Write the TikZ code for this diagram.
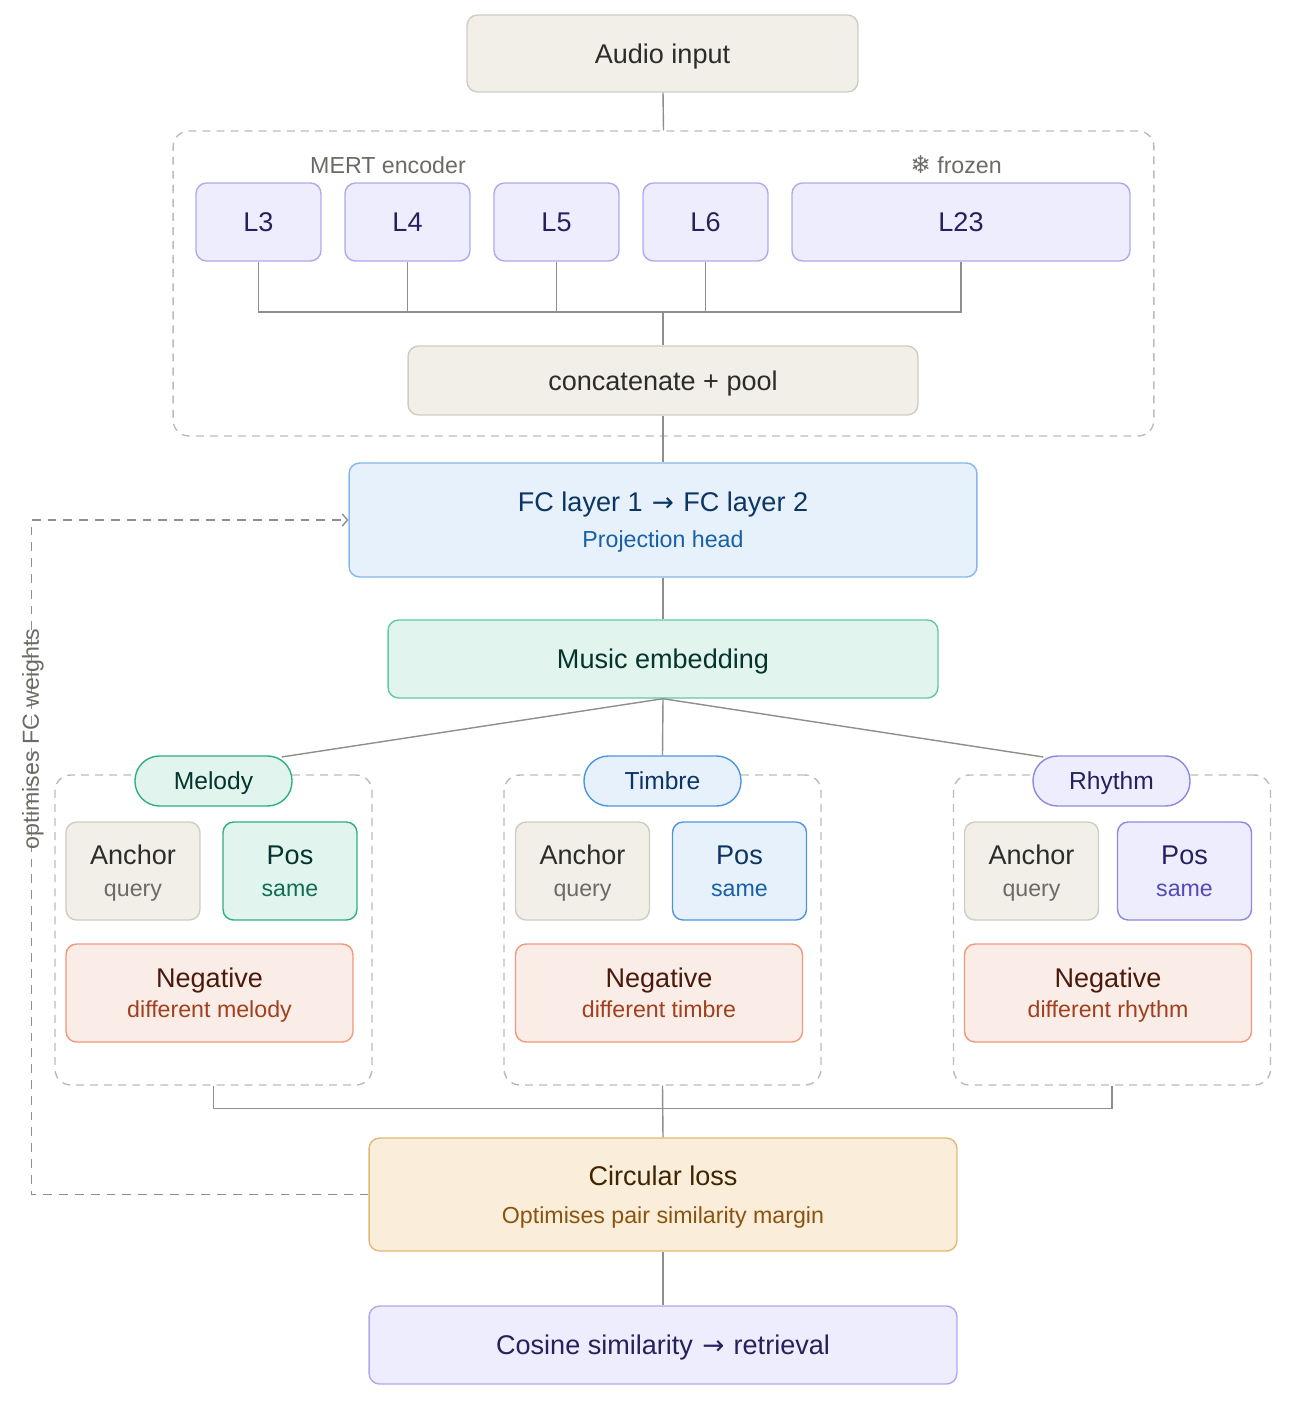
\documentclass[tikz,border=0pt]{standalone}
\usepackage{fontspec}
\setmainfont{Liberation Sans}
\newfontfamily\symfont{DejaVu Sans}
\usetikzlibrary{positioning,arrows.meta,calc}
\definecolor{SandFill}{HTML}{F1EFE8}
\definecolor{SandLine}{HTML}{CFCCC2}
\definecolor{SandText}{HTML}{2C2C2A}
\definecolor{SandSub}{HTML}{6B6A65}
\definecolor{VioFill}{HTML}{EEEDFE}
\definecolor{VioLine}{HTML}{AFA9EC}
\definecolor{VioDeep}{HTML}{8F88E0}
\definecolor{VioText}{HTML}{26215C}
\definecolor{VioSub}{HTML}{534AB7}
\definecolor{SkyFill}{HTML}{E6F1FB}
\definecolor{SkyLine}{HTML}{85B7EB}
\definecolor{SkyDeep}{HTML}{4F95DE}
\definecolor{SkyText}{HTML}{0C3563}
\definecolor{SkySub}{HTML}{185FA5}
\definecolor{MintFill}{HTML}{E1F5EE}
\definecolor{MintLine}{HTML}{5DCAA5}
\definecolor{MintDeep}{HTML}{2FAE84}
\definecolor{MintText}{HTML}{04342C}
\definecolor{MintSub}{HTML}{0F6E56}
\definecolor{RustFill}{HTML}{FAECE7}
\definecolor{RustLine}{HTML}{F0997B}
\definecolor{RustText}{HTML}{4A1B0C}
\definecolor{RustSub}{HTML}{A0401E}
\definecolor{AmberFill}{HTML}{FAEEDA}
\definecolor{AmberLine}{HTML}{E2B877}
\definecolor{AmberText}{HTML}{412402}
\definecolor{AmberSub}{HTML}{8A5410}
\definecolor{WireGrey}{HTML}{8E8E8A}
\definecolor{DashGrey}{HTML}{BDBBB4}
\newcommand\titlesize{\fontsize{15.4}{18}\selectfont}
\newcommand\subsize{\fontsize{13.2}{16}\selectfont}
\newcommand\arr{\hspace{1pt}{\symfont\fontsize{15}{16}\selectfont →}\hspace{1pt}}
% title over a coloured sub line; #4 = baseline distance
\newcommand\duo[4]{\vbox{\offinterlineskip\halign{\hfil##\hfil\cr
  \rule{0pt}{11pt}\smash{#1}\cr
  \noalign{\vskip #4}
  \smash{\subsize\color{#3}#2}\cr}}}

\tikzset{
  box/.style={draw, rounded corners=6pt, inner sep=0pt, line width=0.8pt, font=\titlesize},
  solo/.style={text height=11pt, text depth=0pt},
  sandbox/.style={box, solo, fill=SandFill, draw=SandLine, text=SandText},
  layerbox/.style={box, solo, fill=VioFill, draw=VioLine, text=VioText, minimum width=2.50cm, minimum height=1.56cm},
  group/.style={draw=DashGrey, dash pattern=on 4.5pt off 3.5pt, rounded corners=9pt, line width=0.8pt, inner sep=0pt},
  pill/.style={box, rounded corners=0.49cm, minimum width=3.14cm, minimum height=1.0cm, font=\fontsize{14}{17}\selectfont, text height=10pt, text depth=0pt},
  anchorbox/.style={box, fill=SandFill, draw=SandLine, text=SandText, minimum width=2.68cm, minimum height=1.96cm},
  posbox/.style={box, minimum width=2.68cm, minimum height=1.96cm},
  negbox/.style={box, fill=RustFill, draw=RustLine, text=RustText, minimum width=5.74cm, minimum height=1.96cm},
  wire/.style={draw=WireGrey, line width=0.8pt},
  tag/.style={font=\subsize, text=SandSub, inner sep=0pt}
}

\begin{document}
\begin{tikzpicture}[x=0.02cm, y=-0.02cm]
  \useasboundingbox (0,0) rectangle (1292,1403);

  % encoder
  \node[sandbox, minimum width=7.82cm, minimum height=1.54cm] (audio) at (662.5,53.5) {Audio input};
  \node[group, minimum width=19.62cm, minimum height=6.10cm] (enc) at (663.5,283.5) {};
  \node[tag] (mertlbl) at (388,165) {MERT encoder};
  \node[tag] (frozenlbl) at (956,165) {{\symfont\fontsize{14}{14}\selectfont ❄} frozen};
  \node[layerbox] (l3) at (258.5,222) {L3};
  \node[layerbox] (l4) at (407.5,222) {L4};
  \node[layerbox] (l5) at (556.5,222) {L5};
  \node[layerbox] (l6) at (705.5,222) {L6};
  \node[layerbox, minimum width=6.76cm] (l23) at (961,222) {L23};
  \node[sandbox, minimum width=10.2cm, minimum height=1.38cm] (concat) at (663,380.5) {concatenate + pool};
  \coordinate (hub) at (663,312);

  % head + embedding
  \node[box, fill=SkyFill, draw=SkyLine, text=SkyText, minimum width=12.56cm, minimum height=2.28cm] (fc) at (663,520)
    {\duo{FC layer 1 \arr{} FC layer 2}{Projection head}{SkySub}{20.2pt}};
  \node[box, solo, fill=MintFill, draw=MintLine, text=MintText, minimum width=11.0cm, minimum height=1.56cm] (emb) at (663,659) {Music embedding};

  % triplet groups
  \node[group, minimum width=6.34cm, minimum height=6.2cm] (mgrp) at (213.5,930) {};
  \node[group, minimum width=6.34cm, minimum height=6.2cm] (tgrp) at (662.5,930) {};
  \node[group, minimum width=6.34cm, minimum height=6.2cm] (rgrp) at (1112,930) {};
  \node[pill, fill=MintFill, draw=MintDeep, text=MintText] (melody) at (213.5,781) {Melody};
  \node[pill, fill=SkyFill, draw=SkyDeep, text=SkyText] (timbre) at (662.5,781) {Timbre};
  \node[pill, fill=VioFill, draw=VioDeep, text=VioText] (rhythm) at (1111.5,781) {Rhythm};

  \node[anchorbox] (manchor) at (133,871) {\duo{Anchor}{query}{SandSub}{18.3pt}};
  \node[posbox, fill=MintFill, draw=MintDeep, text=MintText] (mpos) at (290,871) {\duo{Pos}{same}{MintSub}{18.3pt}};
  \node[negbox] (mneg) at (209.5,993) {\duo{Negative}{different melody}{RustSub}{16.8pt}};

  \node[anchorbox] (tanchor) at (582.5,871) {\duo{Anchor}{query}{SandSub}{18.3pt}};
  \node[posbox, fill=SkyFill, draw=SkyDeep, text=SkyText] (tpos) at (739.5,871) {\duo{Pos}{same}{SkySub}{18.3pt}};
  \node[negbox] (tneg) at (659,993) {\duo{Negative}{different timbre}{RustSub}{16.8pt}};

  \node[anchorbox] (ranchor) at (1031.5,871) {\duo{Anchor}{query}{SandSub}{18.3pt}};
  \node[posbox, fill=VioFill, draw=VioDeep, text=VioText] (rpos) at (1184.5,871) {\duo{Pos}{same}{VioSub}{18.3pt}};
  \node[negbox] (rneg) at (1108,993) {\duo{Negative}{different rhythm}{RustSub}{16.8pt}};

  % loss + retrieval
  \node[box, fill=AmberFill, draw=AmberLine, text=AmberText, minimum width=11.76cm, minimum height=2.26cm] (loss) at (663,1194.5)
    {\duo{Circular loss}{Optimises pair similarity margin}{AmberSub}{21.7pt}};
  \node[box, solo, fill=VioFill, draw=VioLine, text=VioText, minimum width=11.76cm, minimum height=1.56cm] (cosine) at (663,1345) {Cosine similarity \arr{} retrieval};

  % connectors
  \draw[wire] (audio) -- (enc.north);
  \draw[wire] (l3.south) |- (hub) -| (l23.south);
  \draw[wire] (l4.south) -- (l4.south |- hub);
  \draw[wire] (l5.south) -- (l5.south |- hub);
  \draw[wire] (l6.south) -- (l6.south |- hub);
  \draw[wire] (hub) -- (concat.north);
  \draw[wire] (concat) -- (fc);
  \draw[wire] (fc) -- (emb);
  \draw[wire, shorten >=-0.22cm] (emb.south) -- (melody.north east);
  \draw[wire] (emb.south) -- (timbre.north);
  \draw[wire, shorten >=-0.22cm] (emb.south) -- (rhythm.north west);
  \draw[wire] (mgrp.south) -- ++(0,23) -| (rgrp.south);
  \draw[wire] (tgrp.south) -- (loss.north);
  \draw[wire] (loss) -- (cosine);

  % feedback to the head
  \draw[draw=WireGrey, line width=0.8pt, dash pattern=on 5pt off 4pt, -{Straight Barb[length=3pt, width=7pt]}]
    (loss.west) -- ++(-337,0) |- (fc.west);
  \node[tag, rotate=90] (fblbl) at (33,739) {optimises FC weights};
\end{tikzpicture}
\end{document}
